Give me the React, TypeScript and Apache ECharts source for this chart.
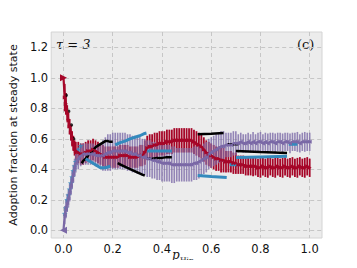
import React, { useEffect, useRef } from "react";
import * as echarts from "echarts";

const tickVals = [0, 0.2, 0.4, 0.6, 0.8, 1.0];
const yTickVals = [0, 0.2, 0.4, 0.6, 0.8, 1.0, 1.2];

const pX = [0, 0.005, 0.01, 0.015, 0.02, 0.025, 0.03, 0.035, 0.04, 0.045, 0.05,
  0.06, 0.07, 0.08, 0.09, 0.10, 0.11, 0.12, 0.13, 0.14, 0.15,
  0.16, 0.17, 0.18, 0.19, 0.20, 0.21, 0.22, 0.23, 0.24, 0.25,
  0.26, 0.27, 0.28, 0.29, 0.30, 0.31, 0.32, 0.33, 0.34, 0.35,
  0.36, 0.37, 0.38, 0.39, 0.40, 0.41, 0.42, 0.43, 0.44, 0.45,
  0.46, 0.47, 0.48, 0.49, 0.50, 0.51, 0.52, 0.53, 0.54, 0.55,
  0.56, 0.57, 0.58, 0.59, 0.60, 0.61, 0.62, 0.63, 0.64, 0.65,
  0.66, 0.67, 0.68, 0.69, 0.70, 0.71, 0.72, 0.73, 0.74, 0.75,
  0.76, 0.77, 0.78, 0.79, 0.80, 0.81, 0.82, 0.83, 0.84, 0.85,
  0.86, 0.87, 0.88, 0.89, 0.90, 0.91, 0.92, 0.93, 0.94, 0.95,
  0.96, 0.97, 0.98, 0.99, 1.00];

const redY = [1.00, 0.87, 0.83, 0.77, 0.72, 0.68, 0.64, 0.60, 0.57, 0.54, 0.52,
  0.51, 0.50, 0.50, 0.51, 0.52, 0.52, 0.53, 0.52, 0.51, 0.50,
  0.49, 0.48, 0.48, 0.48, 0.48, 0.48, 0.48, 0.49, 0.49, 0.49,
  0.49, 0.48, 0.48, 0.48, 0.48, 0.49, 0.49, 0.51, 0.54, 0.55,
  0.55, 0.56, 0.56, 0.57, 0.57, 0.57, 0.58, 0.58, 0.58, 0.59,
  0.59, 0.59, 0.59, 0.59, 0.59, 0.59, 0.59, 0.58, 0.57, 0.56,
  0.55, 0.53, 0.51, 0.50, 0.49, 0.48, 0.47, 0.47, 0.46, 0.46,
  0.45, 0.45, 0.45, 0.44, 0.44, 0.43, 0.43, 0.43, 0.42, 0.42,
  0.42, 0.42, 0.42, 0.41, 0.41, 0.42, 0.41, 0.41, 0.42, 0.41,
  0.41, 0.42, 0.41, 0.41, 0.42, 0.41, 0.41, 0.42, 0.41, 0.41,
  0.42, 0.41, 0.41, 0.42, 0.41];

const redErr = [0, 0.09, 0.07, 0.05, 0.05, 0.05, 0.05, 0.05, 0.05, 0.05, 0.06,
  0.07, 0.07, 0.07, 0.07, 0.07, 0.07, 0.07, 0.07, 0.07, 0.07,
  0.07, 0.07, 0.07, 0.07, 0.07, 0.07, 0.07, 0.07, 0.07, 0.07,
  0.07, 0.07, 0.07, 0.07, 0.07, 0.07, 0.07, 0.08, 0.08, 0.08,
  0.08, 0.08, 0.08, 0.08, 0.08, 0.08, 0.08, 0.08, 0.08, 0.08,
  0.08, 0.08, 0.08, 0.08, 0.08, 0.08, 0.08, 0.08, 0.08, 0.08,
  0.08, 0.08, 0.08, 0.08, 0.08, 0.08, 0.08, 0.08, 0.08, 0.08,
  0.07, 0.07, 0.07, 0.07, 0.07, 0.06, 0.06, 0.06, 0.06, 0.06,
  0.06, 0.065, 0.06, 0.06, 0.065, 0.06, 0.06, 0.065, 0.06, 0.06,
  0.065, 0.06, 0.06, 0.065, 0.06, 0.06, 0.065, 0.06, 0.06, 0.065,
  0.06, 0.06, 0.065, 0.06, 0.06];

const purY = [0.00, 0.10, 0.14, 0.18, 0.21, 0.25, 0.29, 0.33, 0.37, 0.41, 0.44,
  0.47, 0.49, 0.50, 0.50, 0.50, 0.50, 0.50, 0.49, 0.49, 0.49,
  0.49, 0.50, 0.51, 0.51, 0.52, 0.52, 0.52, 0.52, 0.52, 0.52,
  0.51, 0.51, 0.50, 0.50, 0.49, 0.49, 0.48, 0.48, 0.47, 0.47,
  0.46, 0.46, 0.45, 0.45, 0.44, 0.44, 0.44, 0.44, 0.43, 0.43,
  0.43, 0.43, 0.43, 0.43, 0.43, 0.43, 0.43, 0.44, 0.44, 0.45,
  0.46, 0.47, 0.48, 0.50, 0.51, 0.52, 0.53, 0.54, 0.55, 0.55,
  0.56, 0.56, 0.56, 0.57, 0.57, 0.57, 0.58, 0.57, 0.57, 0.58,
  0.57, 0.58, 0.57, 0.58, 0.58, 0.57, 0.58, 0.57, 0.58, 0.58,
  0.57, 0.58, 0.58, 0.57, 0.58, 0.58, 0.57, 0.58, 0.58, 0.58,
  0.57, 0.58, 0.58, 0.58, 0.58];

const purErr = [0, 0.06, 0.06, 0.06, 0.06, 0.06, 0.06, 0.06, 0.06, 0.06, 0.06,
  0.07, 0.07, 0.07, 0.07, 0.07, 0.07, 0.07, 0.07, 0.07, 0.07,
  0.10, 0.11, 0.12, 0.12, 0.12, 0.12, 0.12, 0.12, 0.12, 0.12,
  0.12, 0.12, 0.12, 0.12, 0.12, 0.12, 0.12, 0.12, 0.12, 0.12,
  0.12, 0.12, 0.12, 0.12, 0.12, 0.12, 0.12, 0.12, 0.12, 0.12,
  0.11, 0.11, 0.11, 0.11, 0.11, 0.11, 0.11, 0.11, 0.11, 0.11,
  0.10, 0.10, 0.10, 0.10, 0.10, 0.10, 0.10, 0.10, 0.10, 0.10,
  0.08, 0.08, 0.08, 0.08, 0.08, 0.06, 0.06, 0.06, 0.06, 0.06,
  0.06, 0.065, 0.06, 0.06, 0.065, 0.06, 0.06, 0.065, 0.06, 0.06,
  0.065, 0.06, 0.06, 0.065, 0.06, 0.06, 0.065, 0.06, 0.06, 0.065,
  0.06, 0.06, 0.065, 0.06, 0.06];

// black branch segments [x, y]
const blackDots = [[0.011, 0.885], [0.021, 0.78], [0.032, 0.69], [0.041, 0.60]];
const blackSegs = [
  [[0.074, 0.44], [0.08, 0.455], [0.09, 0.47], [0.10, 0.49], [0.11, 0.51], [0.12, 0.525], [0.13, 0.545], [0.14, 0.555], [0.15, 0.565], [0.16, 0.575], [0.17, 0.585], [0.18, 0.585], [0.19, 0.58], [0.20, 0.58]],
  [[0.22, 0.44], [0.24, 0.425], [0.26, 0.41], [0.28, 0.395], [0.30, 0.38], [0.32, 0.365], [0.33, 0.36]],
  [[0.34, 0.47], [0.36, 0.47], [0.38, 0.475], [0.40, 0.475], [0.42, 0.48], [0.44, 0.48]],
  [[0.545, 0.63], [0.60, 0.634], [0.65, 0.638]],
  [[0.665, 0.565], [0.71, 0.565]],
  [[0.70, 0.52], [0.80, 0.513], [0.908, 0.507]],
];

const blueDots = [[0.005, 0.11], [0.01, 0.145], [0.015, 0.2], [0.02, 0.23], [0.025, 0.27], [0.03, 0.31], [0.035, 0.35], [0.04, 0.39], [0.045, 0.42], [0.05, 0.45], [0.06, 0.53], [0.07, 0.555]];
const blueSegs = [
  [[0.09, 0.47], [0.11, 0.45], [0.13, 0.43], [0.15, 0.41], [0.17, 0.41], [0.19, 0.42]],
  [[0.21, 0.56], [0.23, 0.575], [0.25, 0.585], [0.27, 0.6], [0.29, 0.61], [0.31, 0.62], [0.33, 0.635], [0.337, 0.638]],
  [[0.34, 0.52], [0.44, 0.52]],
  [[0.545, 0.36], [0.60, 0.353], [0.663, 0.346]],
  [[0.675, 0.43], [0.71, 0.43]],
  [[0.70, 0.477], [0.80, 0.481], [0.908, 0.485]],
  [[0.915, 0.565], [0.95, 0.565]],
];

const RED = "#A60628";
const PURPLE = "#7A68A6";
const BLUE = "#348ABD";
const BLACK = "#000000";
const STAR = "path://M0,-10L2.35,-3.24L9.51,-3.09L3.8,1.24L5.88,8.09L0,4L-5.88,8.09L-3.8,1.24L-9.51,-3.09L-2.35,-3.24Z";

function errSeries(ys: number[], errs: number[], color: string, width: number) {
  return {
    type: "custom",
    clip: true,
    data: pX.map((x, i) => [x, ys[i], errs[i]]),
    encode: { x: 0, y: 1 },
    renderItem: (params: any, api: any) => {
      const x = api.value(0);
      const y = api.value(1);
      const e = api.value(2);
      const p1 = api.coord([x, y + e]);
      const p2 = api.coord([x, y - e]);
      return {
        type: "line",
        shape: { x1: p1[0], y1: p1[1], x2: p2[0], y2: p2[1] },
        style: { stroke: color, lineWidth: width },
      };
    },
  };
}

export default function App() {
  const ref = useRef<HTMLDivElement>(null);
  useEffect(() => {
    if (!ref.current) return;
    const chart = echarts.init(ref.current, undefined, { renderer: "svg" });
    const series: any[] = [];
    series.push(errSeries(redY, redErr, RED, 1.8));
    series.push({
      type: "line",
      data: pX.map((x, i) => [x, redY[i]]),
      lineStyle: { color: RED, width: 2.2 },
      itemStyle: { color: RED },
      symbol: "triangle",
      symbolRotate: -90,
      symbolSize: (v: any, p: any) => (p.dataIndex === 0 ? 7 : 4),
      showSymbol: true,
    });
    series.push(errSeries(purY, purErr, "rgba(122,104,166,0.78)", 1.6));
    series.push({
      type: "line",
      data: pX.map((x, i) => [x, purY[i]]),
      lineStyle: { color: PURPLE, width: 2.2 },
      itemStyle: { color: PURPLE },
      symbol: "triangle",
      symbolRotate: 90,
      symbolSize: (v: any, p: any) => (p.dataIndex === 0 ? 7 : 4),
      showSymbol: true,
    });
    series.push({
      type: "scatter",
      data: blackDots,
      symbol: "circle",
      symbolSize: 3.5,
      itemStyle: { color: BLACK },
    });
    blackSegs.forEach((seg) => {
      series.push({
        type: "line",
        data: seg,
        showSymbol: false,
        lineStyle: { color: BLACK, width: 2.5 },
      });
    });
    series.push({
      type: "scatter",
      data: blueDots,
      symbol: STAR,
      symbolSize: 6,
      itemStyle: { color: BLUE },
    });
    blueSegs.forEach((seg) => {
      series.push({
        type: "line",
        data: seg,
        showSymbol: false,
        lineStyle: { color: BLUE, width: 3 },
      });
    });

    chart.setOption({
      animation: false,
      grid: {
        left: 44, top: 32, right: 35, bottom: 30,
        show: true, backgroundColor: "#ececec", borderColor: "#d4d4d4", borderWidth: 1,
      },
      xAxis: {
        type: "value", min: -0.05, max: 1.05,
        axisLine: { show: false },
        axisTick: { show: false, customValues: tickVals },
        axisLabel: {
          customValues: tickVals, formatter: (v: number) => v.toFixed(1),
          color: "#111", fontSize: 11.5, fontFamily: "DejaVu Sans", margin: 5,
        },
        splitLine: { show: true, lineStyle: { color: "#c6c6c6", type: [4, 3], width: 1 } },
      },
      yAxis: {
        type: "value", min: -0.05, max: 1.3,
        axisLine: { show: false },
        axisTick: { show: false, customValues: yTickVals },
        axisLabel: {
          customValues: yTickVals, formatter: (v: number) => v.toFixed(1),
          color: "#111", fontSize: 11.5, fontFamily: "DejaVu Sans", margin: 3,
        },
        splitLine: { show: true, lineStyle: { color: "#c6c6c6", type: [4, 3], width: 1 } },
        name: "Adoption fraction at steady state",
        nameLocation: "middle",
        nameGap: 25,
        nameTextStyle: { fontFamily: "DejaVu Sans", fontSize: 11, color: "#111" },
      },
      graphic: [
        {
          type: "text", left: 56, top: 38,
          style: { text: "τ = 3", font: "italic 13px 'DejaVu Serif'", fill: "#111" },
        },
        {
          type: "text", left: 297, top: 38,
          style: { text: "(c)", font: "13px 'DejaVu Serif'", fill: "#111" },
        },
        {
          type: "text", left: 172, top: 249,
          style: { text: "p", font: "italic 12px 'DejaVu Serif'", fill: "#111" },
        },
        {
          type: "text", left: 180, top: 256,
          style: { text: "Hip", font: "7.5px 'DejaVu Serif'", fill: "#111" },
        },
      ],
      series,
    });
    return () => chart.dispose();
  }, []);
  return <div ref={ref} style={{ width: 357, height: 268, margin: -8 }} />;
}
